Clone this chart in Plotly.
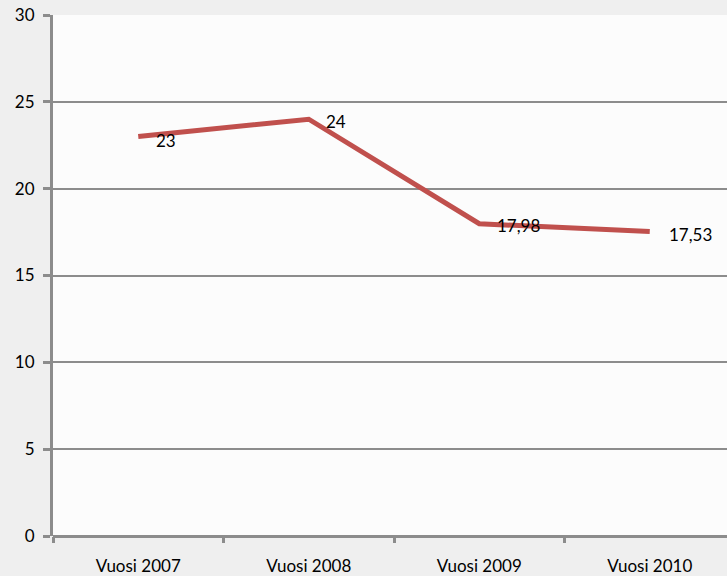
import plotly.graph_objects as go

categories = ["Vuosi 2007", "Vuosi 2008", "Vuosi 2009", "Vuosi 2010"]
values = [23, 24, 17.98, 17.53]
value_labels = ["23", "24", "17,98", "17,53"]
y_ticks = [0, 5, 10, 15, 20, 25, 30]

label_shift = [(16, -4), (15, -2), (16, -2), (17, -3)]
FONT = "Lato, Carlito, sans-serif"

fig = go.Figure()
fig.add_trace(go.Scatter(
    x=categories, y=values, mode="lines",
    line=dict(color="#c0504d", width=5),
    hoverinfo="skip", showlegend=False,
))

for c, v, t, (dx, dy) in zip(categories, values, value_labels, label_shift):
    fig.add_annotation(x=c, y=v, text=t, showarrow=False, xanchor="left",
                       yanchor="middle", xshift=dx, yshift=dy,
                       font=dict(family=FONT, size=17, color="#000000"))

fig.update_layout(
    width=727, height=576,
    margin=dict(l=53, r=0, t=15, b=40),
    paper_bgcolor="#efefef",
    plot_bgcolor="#fcfcfc",
    font=dict(family=FONT, size=17, color="#000000"),
    xaxis=dict(
        type="category", range=[-0.5, 3.453],
        tickson="boundaries", ticks="outside", ticklen=6, tickwidth=3, tickcolor="#8c8c8c",
        showgrid=False, showline=False, zeroline=False,
        ticklabelstandoff=18,
    ),
    yaxis=dict(
        range=[0, 30], tickvals=y_ticks,
        ticks="outside", ticklen=7, tickwidth=3, tickcolor="#8c8c8c",
        showgrid=True, gridcolor="#8c8c8c", gridwidth=2,
        showline=True, linecolor="#8c8c8c", linewidth=3,
        zeroline=True, zerolinecolor="#8c8c8c", zerolinewidth=3,
        ticklabelstandoff=5,
    ),
)

fig.write_html(
    "out.html",
    config={"displayModeBar": False},
    post_script="document.body.style.margin='0';document.body.style.background='#efefef';",
)
